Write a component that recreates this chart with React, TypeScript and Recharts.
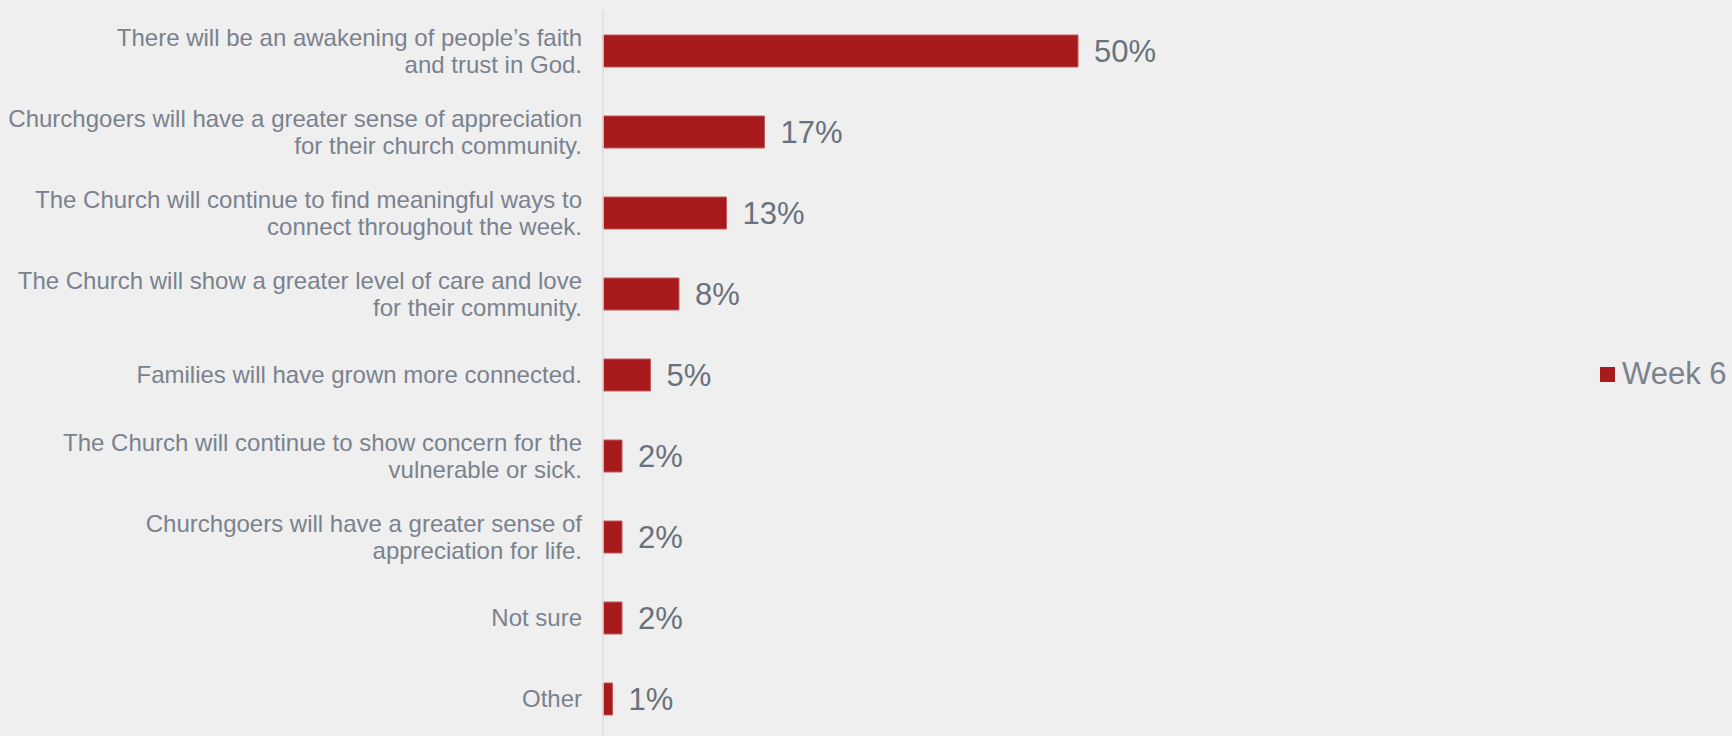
import React from 'react';
import { BarChart, Bar, XAxis, YAxis, LabelList, Legend } from 'recharts';

const categories: string[] = [
  'There will be an awakening of people\u2019s faith\nand trust in God.',
  'Churchgoers will have a greater sense of appreciation\nfor their church community.',
  'The Church will continue to find meaningful ways to\nconnect throughout the week.',
  'The Church will show a greater level of care and love\nfor their community.',
  'Families will have grown more connected.',
  'The Church will continue to show concern for the\nvulnerable or sick.',
  'Churchgoers will have a greater sense of\nappreciation for life.',
  'Not sure',
  'Other',
];
const week6Values: number[] = [50, 17, 13, 8, 5, 2, 2, 2, 1];
const seriesName = 'Week 6';

const data = categories.map((c, i) => ({ category: c, value: week6Values[i] }));

const FONT = '"Liberation Sans", Arial, sans-serif';
const BAR_COLOR = '#a71b1d';
const TEXT_COLOR = '#7a828e';
const VALUE_COLOR = '#69717c';

const CategoryTick = (props: any) => {
  const { x, y, payload } = props;
  const lines: string[] = String(payload.value).split('\n');
  const lh = 27;
  const start = y - ((lines.length - 1) * lh) / 2;
  return (
    <text textAnchor="end" fill={TEXT_COLOR} fontSize={24} fontFamily={FONT}>
      {lines.map((l, i) => (
        <tspan key={i} x={x} y={start + i * lh} dominantBaseline="central">
          {l}
        </tspan>
      ))}
    </text>
  );
};

const LegendContent = () => (
  <div style={{ display: 'flex', alignItems: 'center', fontFamily: FONT }}>
    <div style={{ width: 15, height: 15, background: BAR_COLOR, marginRight: 7 }} />
    <span style={{ fontSize: 31, color: TEXT_COLOR, lineHeight: '34px', whiteSpace: 'nowrap' }}>{seriesName}</span>
  </div>
);

export default function App() {
  return (
    <div
      style={{
        position: 'absolute',
        top: 0,
        left: 0,
        width: 1732,
        height: 736,
        overflow: 'hidden',
        background: '#efefef',
      }}
    >
      <BarChart
        width={1732}
        height={745}
        data={data}
        layout="vertical"
        margin={{ top: 10, right: 47, bottom: 6, left: 0 }}
      >
        <XAxis type="number" domain={[0, 100]} hide />
        <YAxis
          type="category"
          dataKey="category"
          width={603}
          tickLine={false}
          tickSize={0}
          tickMargin={21}
          axisLine={{ stroke: '#dcdcdc', strokeWidth: 1.5 }}
          tick={<CategoryTick />}
          interval={0}
        />
        <Legend
          layout="vertical"
          align="right"
          verticalAlign="middle"
          content={<LegendContent />}
          wrapperStyle={{ left: 1600, top: 357, width: 132, height: 34 }}
        />
        <Bar
          dataKey="value"
          name={seriesName}
          fill={BAR_COLOR}
          stroke="#c65a5a"
          strokeWidth={1}
          barSize={32}
          isAnimationActive={false}
        >
          <LabelList
            dataKey="value"
            position="right"
            offset={16}
            formatter={(v: any) => `${v}%`}
            fill={VALUE_COLOR}
            fontSize={31}
            fontFamily={FONT}
          />
        </Bar>
      </BarChart>
    </div>
  );
}
